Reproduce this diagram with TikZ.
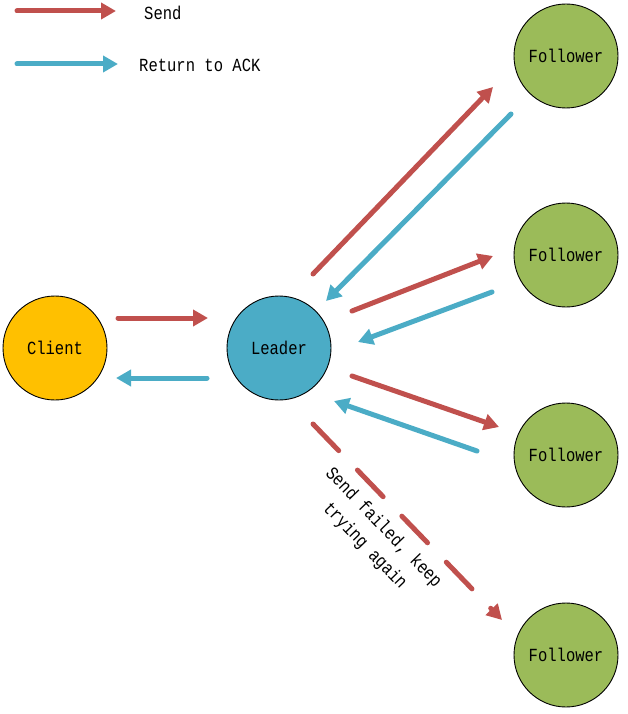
\documentclass[tikz,border=0pt]{standalone}
\usepackage{fontspec}
\newfontfamily\monofont[FakeStretch=0.84]{Liberation Mono}
\usetikzlibrary{arrows.meta}
\definecolor{redarr}{HTML}{C0504D}
\definecolor{bluearr}{HTML}{4BACC6}
\definecolor{clientc}{HTML}{FFC000}
\definecolor{leaderc}{HTML}{4BACC6}
\definecolor{followc}{HTML}{9BBB59}
\tikzset{
  ball/.style={circle, draw=black, line width=0.9pt, minimum size=104pt, inner sep=0pt, font=\monofont\fontsize{18.5}{22}\selectfont},
  sendarr/.style={draw=redarr, line width=5pt, line cap=round, -{Triangle[length=15pt,width=16pt]}},
  ackarr/.style={draw=bluearr, line width=5pt, line cap=round, -{Triangle[length=15pt,width=16pt]}},
  failarr/.style={sendarr, dash pattern=on 37pt off 27pt},
  lbl/.style={font=\monofont\fontsize{18.5}{22}\selectfont, inner sep=0pt}
}
\begin{document}
\begin{tikzpicture}[x=1pt,y=-1pt]
\useasboundingbox (0,0) rectangle (628,714);
% nodes
\node[ball, fill=clientc] (client) at (55,348) {Client};
\node[ball, fill=leaderc] (leader) at (279,348) {Leader};
\node[ball, fill=followc] (f1) at (566,56) {Follower};
\node[ball, fill=followc] (f2) at (566,255) {Follower};
\node[ball, fill=followc] (f3) at (566,455) {Follower};
\node[ball, fill=followc] (f4) at (566,655) {Follower};
% legend
\coordinate (ls1) at (17,11); \coordinate (ls2) at (116,11);
\coordinate (la1) at (17,64); \coordinate (la2) at (118,64);
\draw[sendarr] (ls1) -- (ls2);
\draw[ackarr] (la1) -- (la2);
\node[lbl, anchor=west] (lsend) at (144,13) {Send};
\node[lbl, anchor=west] (lack) at (139,65) {Return to ACK};
% client <-> leader
\coordinate (c1) at (118,318); \coordinate (c2) at (208,318);
\coordinate (c3) at (207,378); \coordinate (c4) at (116,378);
\draw[sendarr] (c1) -- (c2);
\draw[ackarr] (c3) -- (c4);
% leader <-> follower 1
\coordinate (a1) at (313,274); \coordinate (a2) at (493,87);
\coordinate (a3) at (511,114); \coordinate (a4) at (326,301);
\draw[sendarr] (a1) -- (a2);
\draw[ackarr] (a3) -- (a4);
% leader <-> follower 2
\coordinate (b1) at (352,311); \coordinate (b2) at (493,256);
\coordinate (b3) at (492,292); \coordinate (b4) at (358,342);
\draw[sendarr] (b1) -- (b2);
\draw[ackarr] (b3) -- (b4);
% leader <-> follower 3
\coordinate (d1) at (352,376); \coordinate (d2) at (499,427);
\coordinate (d3) at (477,451); \coordinate (d4) at (334,401);
\draw[sendarr] (d1) -- (d2);
\draw[ackarr] (d3) -- (d4);
% failed send to follower 4
\coordinate (e1) at (313,424); \coordinate (e2) at (502,620);
\draw[failarr] (e1) -- (e2);
\node[lbl, align=center, rotate=-46, font=\monofont\fontsize{18.5}{26}\selectfont] (fail) at (374,537) {Send failed, keep\\trying again};
\end{tikzpicture}
\end{document}
